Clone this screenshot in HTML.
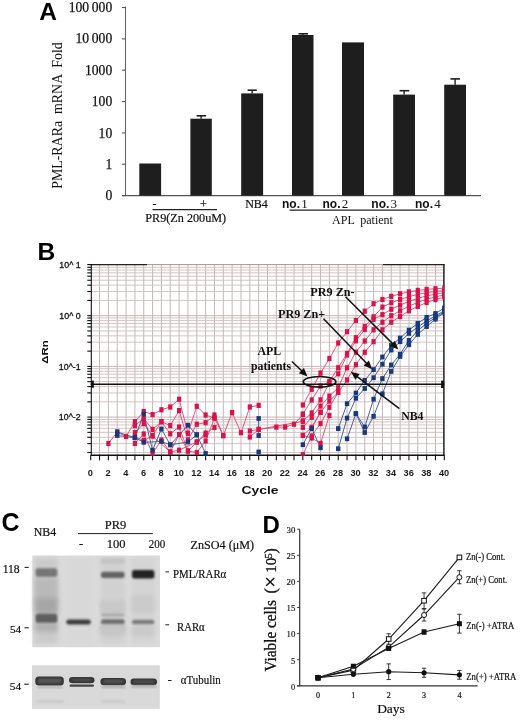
<!DOCTYPE html><html><head><meta charset="utf-8"><style>html,body{margin:0;padding:0;background:#fff;width:520px;height:723px;overflow:hidden}svg{display:block;filter:blur(0.3px)}</style></head><body>
<svg width="520" height="723" viewBox="0 0 520 723">
<rect x="0.00" y="0.00" width="520.00" height="723.00" fill="#fff" />
<text x="39.30" y="20.20" font-family='"Liberation Sans", sans-serif' font-size="24.5" font-weight="bold" text-anchor="start" fill="#000" >A</text>
<line x1="125.50" y1="6.50" x2="125.50" y2="195.60" stroke="#666" stroke-width="1.1" />
<line x1="122.30" y1="195.60" x2="481.00" y2="195.60" stroke="#555" stroke-width="1.2" />
<line x1="122.00" y1="195.60" x2="125.50" y2="195.60" stroke="#555" stroke-width="1.1" />
<text x="112.20" y="200.20" font-family='"Liberation Serif", serif' font-size="13.6" font-weight="normal" text-anchor="end" fill="#111" stroke="#111" stroke-width="0.25">0</text>
<line x1="122.00" y1="164.25" x2="125.50" y2="164.25" stroke="#555" stroke-width="1.1" />
<text x="112.20" y="168.85" font-family='"Liberation Serif", serif' font-size="13.6" font-weight="normal" text-anchor="end" fill="#111" stroke="#111" stroke-width="0.25">1</text>
<line x1="122.00" y1="132.90" x2="125.50" y2="132.90" stroke="#555" stroke-width="1.1" />
<text x="112.20" y="137.50" font-family='"Liberation Serif", serif' font-size="13.6" font-weight="normal" text-anchor="end" fill="#111" stroke="#111" stroke-width="0.25">10</text>
<line x1="122.00" y1="101.55" x2="125.50" y2="101.55" stroke="#555" stroke-width="1.1" />
<text x="112.20" y="106.15" font-family='"Liberation Serif", serif' font-size="13.6" font-weight="normal" text-anchor="end" fill="#111" stroke="#111" stroke-width="0.25">100</text>
<line x1="122.00" y1="70.20" x2="125.50" y2="70.20" stroke="#555" stroke-width="1.1" />
<text x="112.20" y="74.80" font-family='"Liberation Serif", serif' font-size="13.6" font-weight="normal" text-anchor="end" fill="#111" stroke="#111" stroke-width="0.25">1000</text>
<line x1="122.00" y1="38.85" x2="125.50" y2="38.85" stroke="#555" stroke-width="1.1" />
<text x="112.20" y="43.45" font-family='"Liberation Serif", serif' font-size="13.6" font-weight="normal" text-anchor="end" fill="#111" stroke="#111" stroke-width="0.25">10 000</text>
<line x1="122.00" y1="7.50" x2="125.50" y2="7.50" stroke="#555" stroke-width="1.1" />
<text x="112.20" y="12.10" font-family='"Liberation Serif", serif' font-size="13.6" font-weight="normal" text-anchor="end" fill="#111" stroke="#111" stroke-width="0.25">100 000</text>
<text transform="translate(62.3,115.5) rotate(-90)" font-family='"Liberation Serif", serif' font-size="13.9" text-anchor="middle" fill="#111" xml:space="preserve">PML-RARa  mRNA  Fold</text>
<rect x="139.30" y="163.50" width="21.80" height="32.10" fill="#1e1e1e" />
<rect x="190.40" y="118.70" width="21.40" height="76.90" fill="#1e1e1e" />
<line x1="201.10" y1="115.80" x2="201.10" y2="118.70" stroke="#1e1e1e" stroke-width="1.4" />
<line x1="196.60" y1="115.80" x2="206.00" y2="115.80" stroke="#1e1e1e" stroke-width="1.6" />
<rect x="241.20" y="93.40" width="21.90" height="102.20" fill="#1e1e1e" />
<line x1="252.15" y1="90.20" x2="252.15" y2="93.40" stroke="#1e1e1e" stroke-width="1.4" />
<line x1="247.60" y1="90.20" x2="256.80" y2="90.20" stroke="#1e1e1e" stroke-width="1.6" />
<rect x="292.00" y="35.00" width="21.50" height="160.60" fill="#1e1e1e" />
<line x1="302.75" y1="33.80" x2="302.75" y2="35.00" stroke="#1e1e1e" stroke-width="1.4" />
<line x1="298.50" y1="33.80" x2="308.00" y2="33.80" stroke="#1e1e1e" stroke-width="1.6" />
<rect x="342.00" y="42.40" width="22.00" height="153.20" fill="#1e1e1e" />
<rect x="393.20" y="94.60" width="21.80" height="101.00" fill="#1e1e1e" />
<line x1="404.10" y1="90.70" x2="404.10" y2="94.60" stroke="#1e1e1e" stroke-width="1.4" />
<line x1="399.60" y1="90.70" x2="409.30" y2="90.70" stroke="#1e1e1e" stroke-width="1.6" />
<rect x="444.20" y="84.70" width="21.80" height="110.90" fill="#1e1e1e" />
<line x1="455.10" y1="78.90" x2="455.10" y2="84.70" stroke="#1e1e1e" stroke-width="1.4" />
<line x1="450.40" y1="78.90" x2="460.00" y2="78.90" stroke="#1e1e1e" stroke-width="1.6" />
<text x="154.60" y="207.50" font-family='"Liberation Serif", serif' font-size="12" font-weight="normal" text-anchor="middle" fill="#111"  stroke="#111" stroke-width="0.2">-</text>
<text x="203.50" y="207.50" font-family='"Liberation Serif", serif' font-size="12" font-weight="normal" text-anchor="middle" fill="#111"  stroke="#111" stroke-width="0.2">+</text>
<text x="256.50" y="207.50" font-family='"Liberation Serif", serif' font-size="12" font-weight="normal" text-anchor="middle" fill="#111"  stroke="#111" stroke-width="0.2">NB4</text>
<text x="282" y="207.5" font-size="12" fill="#111"><tspan font-family='"Liberation Sans", sans-serif' font-weight="bold">no.</tspan><tspan font-family='"Liberation Serif", serif' font-size="13" dx="1.2">1</tspan></text>
<text x="322.5" y="207.5" font-size="12" fill="#111"><tspan font-family='"Liberation Sans", sans-serif' font-weight="bold">no.</tspan><tspan font-family='"Liberation Serif", serif' font-size="13" dx="1.2">2</tspan></text>
<text x="371.3" y="207.5" font-size="12" fill="#111"><tspan font-family='"Liberation Sans", sans-serif' font-weight="bold">no.</tspan><tspan font-family='"Liberation Serif", serif' font-size="13" dx="1.2">3</tspan></text>
<text x="415" y="207.5" font-size="12" fill="#111"><tspan font-family='"Liberation Sans", sans-serif' font-weight="bold">no.</tspan><tspan font-family='"Liberation Serif", serif' font-size="13" dx="1.2">4</tspan></text>
<line x1="152.50" y1="209.60" x2="217.00" y2="209.60" stroke="#222" stroke-width="1.2" />
<line x1="289.60" y1="210.20" x2="427.00" y2="210.20" stroke="#222" stroke-width="1.2" />
<text x="185.70" y="222.20" font-family='"Liberation Serif", serif' font-size="12.2" font-weight="normal" text-anchor="middle" fill="#111"  stroke="#111" stroke-width="0.2">PR9(Zn 200uM)</text>
<text x="362.5" y="223.8" font-family='"Liberation Serif", serif' font-size="12" text-anchor="middle" fill="#111" xml:space="preserve">APL  patient</text>
<text transform="translate(37.6,259.6) scale(1.0,1)" font-family='"Liberation Sans", sans-serif' font-size="24.6" font-weight="bold" fill="#000">B</text>
<line x1="99.54" y1="264.60" x2="99.54" y2="455.30" stroke="#bbb0b0" stroke-width="0.9" />
<line x1="108.38" y1="264.60" x2="108.38" y2="455.30" stroke="#bbb0b0" stroke-width="0.9" />
<line x1="117.22" y1="264.60" x2="117.22" y2="455.30" stroke="#bbb0b0" stroke-width="0.9" />
<line x1="126.06" y1="264.60" x2="126.06" y2="455.30" stroke="#bbb0b0" stroke-width="0.9" />
<line x1="134.90" y1="264.60" x2="134.90" y2="455.30" stroke="#bbb0b0" stroke-width="0.9" />
<line x1="143.74" y1="264.60" x2="143.74" y2="455.30" stroke="#bbb0b0" stroke-width="0.9" />
<line x1="152.58" y1="264.60" x2="152.58" y2="455.30" stroke="#bbb0b0" stroke-width="0.9" />
<line x1="161.42" y1="264.60" x2="161.42" y2="455.30" stroke="#bbb0b0" stroke-width="0.9" />
<line x1="170.26" y1="264.60" x2="170.26" y2="455.30" stroke="#bbb0b0" stroke-width="0.9" />
<line x1="179.10" y1="264.60" x2="179.10" y2="455.30" stroke="#bbb0b0" stroke-width="0.9" />
<line x1="187.94" y1="264.60" x2="187.94" y2="455.30" stroke="#bbb0b0" stroke-width="0.9" />
<line x1="196.78" y1="264.60" x2="196.78" y2="455.30" stroke="#bbb0b0" stroke-width="0.9" />
<line x1="205.62" y1="264.60" x2="205.62" y2="455.30" stroke="#bbb0b0" stroke-width="0.9" />
<line x1="214.46" y1="264.60" x2="214.46" y2="455.30" stroke="#bbb0b0" stroke-width="0.9" />
<line x1="223.30" y1="264.60" x2="223.30" y2="455.30" stroke="#bbb0b0" stroke-width="0.9" />
<line x1="232.14" y1="264.60" x2="232.14" y2="455.30" stroke="#bbb0b0" stroke-width="0.9" />
<line x1="240.98" y1="264.60" x2="240.98" y2="455.30" stroke="#bbb0b0" stroke-width="0.9" />
<line x1="249.82" y1="264.60" x2="249.82" y2="455.30" stroke="#bbb0b0" stroke-width="0.9" />
<line x1="258.66" y1="264.60" x2="258.66" y2="455.30" stroke="#bbb0b0" stroke-width="0.9" />
<line x1="267.50" y1="264.60" x2="267.50" y2="455.30" stroke="#bbb0b0" stroke-width="0.9" />
<line x1="276.34" y1="264.60" x2="276.34" y2="455.30" stroke="#bbb0b0" stroke-width="0.9" />
<line x1="285.18" y1="264.60" x2="285.18" y2="455.30" stroke="#bbb0b0" stroke-width="0.9" />
<line x1="294.02" y1="264.60" x2="294.02" y2="455.30" stroke="#bbb0b0" stroke-width="0.9" />
<line x1="302.86" y1="264.60" x2="302.86" y2="455.30" stroke="#bbb0b0" stroke-width="0.9" />
<line x1="311.70" y1="264.60" x2="311.70" y2="455.30" stroke="#bbb0b0" stroke-width="0.9" />
<line x1="320.54" y1="264.60" x2="320.54" y2="455.30" stroke="#bbb0b0" stroke-width="0.9" />
<line x1="329.38" y1="264.60" x2="329.38" y2="455.30" stroke="#bbb0b0" stroke-width="0.9" />
<line x1="338.22" y1="264.60" x2="338.22" y2="455.30" stroke="#bbb0b0" stroke-width="0.9" />
<line x1="347.06" y1="264.60" x2="347.06" y2="455.30" stroke="#bbb0b0" stroke-width="0.9" />
<line x1="355.90" y1="264.60" x2="355.90" y2="455.30" stroke="#bbb0b0" stroke-width="0.9" />
<line x1="364.74" y1="264.60" x2="364.74" y2="455.30" stroke="#bbb0b0" stroke-width="0.9" />
<line x1="373.58" y1="264.60" x2="373.58" y2="455.30" stroke="#bbb0b0" stroke-width="0.9" />
<line x1="382.42" y1="264.60" x2="382.42" y2="455.30" stroke="#bbb0b0" stroke-width="0.9" />
<line x1="391.26" y1="264.60" x2="391.26" y2="455.30" stroke="#bbb0b0" stroke-width="0.9" />
<line x1="400.10" y1="264.60" x2="400.10" y2="455.30" stroke="#bbb0b0" stroke-width="0.9" />
<line x1="408.94" y1="264.60" x2="408.94" y2="455.30" stroke="#bbb0b0" stroke-width="0.9" />
<line x1="417.78" y1="264.60" x2="417.78" y2="455.30" stroke="#bbb0b0" stroke-width="0.9" />
<line x1="426.62" y1="264.60" x2="426.62" y2="455.30" stroke="#bbb0b0" stroke-width="0.9" />
<line x1="435.46" y1="264.60" x2="435.46" y2="455.30" stroke="#bbb0b0" stroke-width="0.9" />
<line x1="90.70" y1="452.54" x2="444.30" y2="452.54" stroke="#d2bcbd" stroke-width="0.9" />
<line x1="87.30" y1="452.54" x2="91.30" y2="452.54" stroke="#111" stroke-width="1.1" />
<line x1="90.70" y1="443.61" x2="444.30" y2="443.61" stroke="#d2bcbd" stroke-width="0.9" />
<line x1="87.30" y1="443.61" x2="91.30" y2="443.61" stroke="#111" stroke-width="1.1" />
<line x1="90.70" y1="437.28" x2="444.30" y2="437.28" stroke="#d2bcbd" stroke-width="0.9" />
<line x1="87.30" y1="437.28" x2="91.30" y2="437.28" stroke="#111" stroke-width="1.1" />
<line x1="90.70" y1="432.36" x2="444.30" y2="432.36" stroke="#d2bcbd" stroke-width="0.9" />
<line x1="87.30" y1="432.36" x2="91.30" y2="432.36" stroke="#111" stroke-width="1.1" />
<line x1="90.70" y1="428.35" x2="444.30" y2="428.35" stroke="#d2bcbd" stroke-width="0.9" />
<line x1="87.30" y1="428.35" x2="91.30" y2="428.35" stroke="#111" stroke-width="1.1" />
<line x1="90.70" y1="424.95" x2="444.30" y2="424.95" stroke="#d2bcbd" stroke-width="0.9" />
<line x1="87.30" y1="424.95" x2="91.30" y2="424.95" stroke="#111" stroke-width="1.1" />
<line x1="90.70" y1="422.01" x2="444.30" y2="422.01" stroke="#d2bcbd" stroke-width="0.9" />
<line x1="87.30" y1="422.01" x2="91.30" y2="422.01" stroke="#111" stroke-width="1.1" />
<line x1="90.70" y1="419.42" x2="444.30" y2="419.42" stroke="#d2bcbd" stroke-width="0.9" />
<line x1="87.30" y1="419.42" x2="91.30" y2="419.42" stroke="#111" stroke-width="1.1" />
<line x1="90.70" y1="417.10" x2="444.30" y2="417.10" stroke="#c8b2b2" stroke-width="1.0" />
<line x1="87.30" y1="417.10" x2="91.30" y2="417.10" stroke="#111" stroke-width="1.1" />
<line x1="90.70" y1="401.84" x2="444.30" y2="401.84" stroke="#d2bcbd" stroke-width="0.9" />
<line x1="87.30" y1="401.84" x2="91.30" y2="401.84" stroke="#111" stroke-width="1.1" />
<line x1="90.70" y1="392.91" x2="444.30" y2="392.91" stroke="#d2bcbd" stroke-width="0.9" />
<line x1="87.30" y1="392.91" x2="91.30" y2="392.91" stroke="#111" stroke-width="1.1" />
<line x1="90.70" y1="386.58" x2="444.30" y2="386.58" stroke="#d2bcbd" stroke-width="0.9" />
<line x1="87.30" y1="386.58" x2="91.30" y2="386.58" stroke="#111" stroke-width="1.1" />
<line x1="90.70" y1="381.66" x2="444.30" y2="381.66" stroke="#d2bcbd" stroke-width="0.9" />
<line x1="87.30" y1="381.66" x2="91.30" y2="381.66" stroke="#111" stroke-width="1.1" />
<line x1="90.70" y1="377.65" x2="444.30" y2="377.65" stroke="#d2bcbd" stroke-width="0.9" />
<line x1="87.30" y1="377.65" x2="91.30" y2="377.65" stroke="#111" stroke-width="1.1" />
<line x1="90.70" y1="374.25" x2="444.30" y2="374.25" stroke="#d2bcbd" stroke-width="0.9" />
<line x1="87.30" y1="374.25" x2="91.30" y2="374.25" stroke="#111" stroke-width="1.1" />
<line x1="90.70" y1="371.31" x2="444.30" y2="371.31" stroke="#d2bcbd" stroke-width="0.9" />
<line x1="87.30" y1="371.31" x2="91.30" y2="371.31" stroke="#111" stroke-width="1.1" />
<line x1="90.70" y1="368.72" x2="444.30" y2="368.72" stroke="#d2bcbd" stroke-width="0.9" />
<line x1="87.30" y1="368.72" x2="91.30" y2="368.72" stroke="#111" stroke-width="1.1" />
<line x1="90.70" y1="366.40" x2="444.30" y2="366.40" stroke="#c8b2b2" stroke-width="1.0" />
<line x1="87.30" y1="366.40" x2="91.30" y2="366.40" stroke="#111" stroke-width="1.1" />
<line x1="90.70" y1="351.14" x2="444.30" y2="351.14" stroke="#d2bcbd" stroke-width="0.9" />
<line x1="87.30" y1="351.14" x2="91.30" y2="351.14" stroke="#111" stroke-width="1.1" />
<line x1="90.70" y1="342.21" x2="444.30" y2="342.21" stroke="#d2bcbd" stroke-width="0.9" />
<line x1="87.30" y1="342.21" x2="91.30" y2="342.21" stroke="#111" stroke-width="1.1" />
<line x1="90.70" y1="335.88" x2="444.30" y2="335.88" stroke="#d2bcbd" stroke-width="0.9" />
<line x1="87.30" y1="335.88" x2="91.30" y2="335.88" stroke="#111" stroke-width="1.1" />
<line x1="90.70" y1="330.96" x2="444.30" y2="330.96" stroke="#d2bcbd" stroke-width="0.9" />
<line x1="87.30" y1="330.96" x2="91.30" y2="330.96" stroke="#111" stroke-width="1.1" />
<line x1="90.70" y1="326.95" x2="444.30" y2="326.95" stroke="#d2bcbd" stroke-width="0.9" />
<line x1="87.30" y1="326.95" x2="91.30" y2="326.95" stroke="#111" stroke-width="1.1" />
<line x1="90.70" y1="323.55" x2="444.30" y2="323.55" stroke="#d2bcbd" stroke-width="0.9" />
<line x1="87.30" y1="323.55" x2="91.30" y2="323.55" stroke="#111" stroke-width="1.1" />
<line x1="90.70" y1="320.61" x2="444.30" y2="320.61" stroke="#d2bcbd" stroke-width="0.9" />
<line x1="87.30" y1="320.61" x2="91.30" y2="320.61" stroke="#111" stroke-width="1.1" />
<line x1="90.70" y1="318.02" x2="444.30" y2="318.02" stroke="#d2bcbd" stroke-width="0.9" />
<line x1="87.30" y1="318.02" x2="91.30" y2="318.02" stroke="#111" stroke-width="1.1" />
<line x1="90.70" y1="315.70" x2="444.30" y2="315.70" stroke="#c8b2b2" stroke-width="1.0" />
<line x1="87.30" y1="315.70" x2="91.30" y2="315.70" stroke="#111" stroke-width="1.1" />
<line x1="90.70" y1="300.44" x2="444.30" y2="300.44" stroke="#d2bcbd" stroke-width="0.9" />
<line x1="87.30" y1="300.44" x2="91.30" y2="300.44" stroke="#111" stroke-width="1.1" />
<line x1="90.70" y1="291.51" x2="444.30" y2="291.51" stroke="#d2bcbd" stroke-width="0.9" />
<line x1="87.30" y1="291.51" x2="91.30" y2="291.51" stroke="#111" stroke-width="1.1" />
<line x1="90.70" y1="285.18" x2="444.30" y2="285.18" stroke="#d2bcbd" stroke-width="0.9" />
<line x1="87.30" y1="285.18" x2="91.30" y2="285.18" stroke="#111" stroke-width="1.1" />
<line x1="90.70" y1="280.26" x2="444.30" y2="280.26" stroke="#d2bcbd" stroke-width="0.9" />
<line x1="87.30" y1="280.26" x2="91.30" y2="280.26" stroke="#111" stroke-width="1.1" />
<line x1="90.70" y1="276.25" x2="444.30" y2="276.25" stroke="#d2bcbd" stroke-width="0.9" />
<line x1="87.30" y1="276.25" x2="91.30" y2="276.25" stroke="#111" stroke-width="1.1" />
<line x1="90.70" y1="272.85" x2="444.30" y2="272.85" stroke="#d2bcbd" stroke-width="0.9" />
<line x1="87.30" y1="272.85" x2="91.30" y2="272.85" stroke="#111" stroke-width="1.1" />
<line x1="90.70" y1="269.91" x2="444.30" y2="269.91" stroke="#d2bcbd" stroke-width="0.9" />
<line x1="87.30" y1="269.91" x2="91.30" y2="269.91" stroke="#111" stroke-width="1.1" />
<line x1="90.70" y1="267.32" x2="444.30" y2="267.32" stroke="#d2bcbd" stroke-width="0.9" />
<line x1="87.30" y1="267.32" x2="91.30" y2="267.32" stroke="#111" stroke-width="1.1" />
<line x1="90.70" y1="264.60" x2="444.30" y2="264.60" stroke="#a09595" stroke-width="1.0" />
<line x1="90.70" y1="264.60" x2="147.00" y2="264.60" stroke="#222" stroke-width="1.4" />
<line x1="383.00" y1="264.60" x2="444.30" y2="264.60" stroke="#222" stroke-width="1.4" />
<line x1="87.30" y1="264.60" x2="91.30" y2="264.60" stroke="#111" stroke-width="1.2" />
<line x1="91.30" y1="263.90" x2="91.30" y2="456.00" stroke="#111" stroke-width="1.1" />
<line x1="443.90" y1="263.90" x2="443.90" y2="456.00" stroke="#111" stroke-width="1.4" />
<line x1="90.70" y1="455.30" x2="444.30" y2="455.30" stroke="#111" stroke-width="1.5" />
<line x1="90.70" y1="455.30" x2="90.70" y2="460.30" stroke="#111" stroke-width="1.1" />
<line x1="99.54" y1="455.30" x2="99.54" y2="460.30" stroke="#111" stroke-width="1.1" />
<line x1="108.38" y1="455.30" x2="108.38" y2="460.30" stroke="#111" stroke-width="1.1" />
<line x1="117.22" y1="455.30" x2="117.22" y2="460.30" stroke="#111" stroke-width="1.1" />
<line x1="126.06" y1="455.30" x2="126.06" y2="460.30" stroke="#111" stroke-width="1.1" />
<line x1="134.90" y1="455.30" x2="134.90" y2="460.30" stroke="#111" stroke-width="1.1" />
<line x1="143.74" y1="455.30" x2="143.74" y2="460.30" stroke="#111" stroke-width="1.1" />
<line x1="152.58" y1="455.30" x2="152.58" y2="460.30" stroke="#111" stroke-width="1.1" />
<line x1="161.42" y1="455.30" x2="161.42" y2="460.30" stroke="#111" stroke-width="1.1" />
<line x1="170.26" y1="455.30" x2="170.26" y2="460.30" stroke="#111" stroke-width="1.1" />
<line x1="179.10" y1="455.30" x2="179.10" y2="460.30" stroke="#111" stroke-width="1.1" />
<line x1="187.94" y1="455.30" x2="187.94" y2="460.30" stroke="#111" stroke-width="1.1" />
<line x1="196.78" y1="455.30" x2="196.78" y2="460.30" stroke="#111" stroke-width="1.1" />
<line x1="205.62" y1="455.30" x2="205.62" y2="460.30" stroke="#111" stroke-width="1.1" />
<line x1="214.46" y1="455.30" x2="214.46" y2="460.30" stroke="#111" stroke-width="1.1" />
<line x1="223.30" y1="455.30" x2="223.30" y2="460.30" stroke="#111" stroke-width="1.1" />
<line x1="232.14" y1="455.30" x2="232.14" y2="460.30" stroke="#111" stroke-width="1.1" />
<line x1="240.98" y1="455.30" x2="240.98" y2="460.30" stroke="#111" stroke-width="1.1" />
<line x1="249.82" y1="455.30" x2="249.82" y2="460.30" stroke="#111" stroke-width="1.1" />
<line x1="258.66" y1="455.30" x2="258.66" y2="460.30" stroke="#111" stroke-width="1.1" />
<line x1="267.50" y1="455.30" x2="267.50" y2="460.30" stroke="#111" stroke-width="1.1" />
<line x1="276.34" y1="455.30" x2="276.34" y2="460.30" stroke="#111" stroke-width="1.1" />
<line x1="285.18" y1="455.30" x2="285.18" y2="460.30" stroke="#111" stroke-width="1.1" />
<line x1="294.02" y1="455.30" x2="294.02" y2="460.30" stroke="#111" stroke-width="1.1" />
<line x1="302.86" y1="455.30" x2="302.86" y2="460.30" stroke="#111" stroke-width="1.1" />
<line x1="311.70" y1="455.30" x2="311.70" y2="460.30" stroke="#111" stroke-width="1.1" />
<line x1="320.54" y1="455.30" x2="320.54" y2="460.30" stroke="#111" stroke-width="1.1" />
<line x1="329.38" y1="455.30" x2="329.38" y2="460.30" stroke="#111" stroke-width="1.1" />
<line x1="338.22" y1="455.30" x2="338.22" y2="460.30" stroke="#111" stroke-width="1.1" />
<line x1="347.06" y1="455.30" x2="347.06" y2="460.30" stroke="#111" stroke-width="1.1" />
<line x1="355.90" y1="455.30" x2="355.90" y2="460.30" stroke="#111" stroke-width="1.1" />
<line x1="364.74" y1="455.30" x2="364.74" y2="460.30" stroke="#111" stroke-width="1.1" />
<line x1="373.58" y1="455.30" x2="373.58" y2="460.30" stroke="#111" stroke-width="1.1" />
<line x1="382.42" y1="455.30" x2="382.42" y2="460.30" stroke="#111" stroke-width="1.1" />
<line x1="391.26" y1="455.30" x2="391.26" y2="460.30" stroke="#111" stroke-width="1.1" />
<line x1="400.10" y1="455.30" x2="400.10" y2="460.30" stroke="#111" stroke-width="1.1" />
<line x1="408.94" y1="455.30" x2="408.94" y2="460.30" stroke="#111" stroke-width="1.1" />
<line x1="417.78" y1="455.30" x2="417.78" y2="460.30" stroke="#111" stroke-width="1.1" />
<line x1="426.62" y1="455.30" x2="426.62" y2="460.30" stroke="#111" stroke-width="1.1" />
<line x1="435.46" y1="455.30" x2="435.46" y2="460.30" stroke="#111" stroke-width="1.1" />
<line x1="444.30" y1="455.30" x2="444.30" y2="460.30" stroke="#111" stroke-width="1.1" />
<text x="90.40" y="475.60" font-family='"Liberation Sans", sans-serif' font-size="9.2" font-weight="bold" text-anchor="middle" fill="#1a1a1a" >0</text>
<text x="108.08" y="475.60" font-family='"Liberation Sans", sans-serif' font-size="9.2" font-weight="bold" text-anchor="middle" fill="#1a1a1a" >2</text>
<text x="125.76" y="475.60" font-family='"Liberation Sans", sans-serif' font-size="9.2" font-weight="bold" text-anchor="middle" fill="#1a1a1a" >4</text>
<text x="143.44" y="475.60" font-family='"Liberation Sans", sans-serif' font-size="9.2" font-weight="bold" text-anchor="middle" fill="#1a1a1a" >6</text>
<text x="161.12" y="475.60" font-family='"Liberation Sans", sans-serif' font-size="9.2" font-weight="bold" text-anchor="middle" fill="#1a1a1a" >8</text>
<text x="178.80" y="475.60" font-family='"Liberation Sans", sans-serif' font-size="9.2" font-weight="bold" text-anchor="middle" fill="#1a1a1a" >10</text>
<text x="196.48" y="475.60" font-family='"Liberation Sans", sans-serif' font-size="9.2" font-weight="bold" text-anchor="middle" fill="#1a1a1a" >12</text>
<text x="214.16" y="475.60" font-family='"Liberation Sans", sans-serif' font-size="9.2" font-weight="bold" text-anchor="middle" fill="#1a1a1a" >14</text>
<text x="231.84" y="475.60" font-family='"Liberation Sans", sans-serif' font-size="9.2" font-weight="bold" text-anchor="middle" fill="#1a1a1a" >16</text>
<text x="249.52" y="475.60" font-family='"Liberation Sans", sans-serif' font-size="9.2" font-weight="bold" text-anchor="middle" fill="#1a1a1a" >18</text>
<text x="267.20" y="475.60" font-family='"Liberation Sans", sans-serif' font-size="9.2" font-weight="bold" text-anchor="middle" fill="#1a1a1a" >20</text>
<text x="284.88" y="475.60" font-family='"Liberation Sans", sans-serif' font-size="9.2" font-weight="bold" text-anchor="middle" fill="#1a1a1a" >22</text>
<text x="302.56" y="475.60" font-family='"Liberation Sans", sans-serif' font-size="9.2" font-weight="bold" text-anchor="middle" fill="#1a1a1a" >24</text>
<text x="320.24" y="475.60" font-family='"Liberation Sans", sans-serif' font-size="9.2" font-weight="bold" text-anchor="middle" fill="#1a1a1a" >26</text>
<text x="337.92" y="475.60" font-family='"Liberation Sans", sans-serif' font-size="9.2" font-weight="bold" text-anchor="middle" fill="#1a1a1a" >28</text>
<text x="355.60" y="475.60" font-family='"Liberation Sans", sans-serif' font-size="9.2" font-weight="bold" text-anchor="middle" fill="#1a1a1a" >30</text>
<text x="373.28" y="475.60" font-family='"Liberation Sans", sans-serif' font-size="9.2" font-weight="bold" text-anchor="middle" fill="#1a1a1a" >32</text>
<text x="390.96" y="475.60" font-family='"Liberation Sans", sans-serif' font-size="9.2" font-weight="bold" text-anchor="middle" fill="#1a1a1a" >34</text>
<text x="408.64" y="475.60" font-family='"Liberation Sans", sans-serif' font-size="9.2" font-weight="bold" text-anchor="middle" fill="#1a1a1a" >36</text>
<text x="426.32" y="475.60" font-family='"Liberation Sans", sans-serif' font-size="9.2" font-weight="bold" text-anchor="middle" fill="#1a1a1a" >38</text>
<text x="444.00" y="475.60" font-family='"Liberation Sans", sans-serif' font-size="9.2" font-weight="bold" text-anchor="middle" fill="#1a1a1a" >40</text>
<text x="80.60" y="268.20" font-family='"Liberation Sans", sans-serif' font-size="8.8" font-weight="normal" text-anchor="end" fill="#111" stroke="#111" stroke-width="0.3">10^ 1</text>
<text x="80.60" y="318.90" font-family='"Liberation Sans", sans-serif' font-size="8.8" font-weight="normal" text-anchor="end" fill="#111" stroke="#111" stroke-width="0.3">10^ 0</text>
<text x="80.60" y="369.60" font-family='"Liberation Sans", sans-serif' font-size="8.8" font-weight="normal" text-anchor="end" fill="#111" stroke="#111" stroke-width="0.3">10^-1</text>
<text x="80.60" y="420.30" font-family='"Liberation Sans", sans-serif' font-size="8.8" font-weight="normal" text-anchor="end" fill="#111" stroke="#111" stroke-width="0.3">10^-2</text>
<text transform="translate(47.6,363.7) rotate(-90)" font-family='"Liberation Sans", sans-serif' font-size="8.6" font-weight="bold" fill="#111" textLength="23.5" lengthAdjust="spacingAndGlyphs">ΔRn</text>
<text x="241.5" y="494.3" font-family='"Liberation Sans", sans-serif' font-size="10.6" font-weight="bold" fill="#111" textLength="37" lengthAdjust="spacingAndGlyphs">Cycle</text>
<clipPath id="bclip"><rect x="87.7" y="261.6" width="356.2" height="194.2"/></clipPath>
<g clip-path="url(#bclip)">
<path d="M108.38,443.50 L117.22,432.00 L126.06,436.50 L134.90,421.70 L143.74,411.50 L152.58,414.60 L161.42,409.80 L170.26,407.00 L179.10,399.20 L187.94,433.30 L196.78,406.30 L205.62,415.00 L214.46,418.00 L223.30,435.60 L232.14,412.50 L240.98,432.70 L249.82,407.00 L258.66,405.40" fill="none" stroke="#e64872" stroke-width="0.95"/>
<path d="M134.90,425.60 L143.74,418.50 L152.58,429.40 L161.42,421.70 L170.26,425.60 L179.10,410.60 L187.94,440.00 L196.78,424.20 L205.62,422.70 L214.46,415.00 L223.30,435.60" fill="none" stroke="#e64872" stroke-width="0.95"/>
<path d="M134.90,432.70 L143.74,423.60 L152.58,435.60 L161.42,421.70 L170.26,433.80 L179.10,427.00 L187.94,451.00 L196.78,442.00 L205.62,433.00 L214.46,427.50" fill="none" stroke="#e64872" stroke-width="0.95"/>
<path d="M134.90,443.50 L143.74,434.00 L152.58,453.50 L161.42,440.00 L170.26,452.00 L179.10,434.60 L187.94,451.00 L196.78,452.50 L205.62,441.00 L214.46,418.00" fill="none" stroke="#e64872" stroke-width="0.95"/>
<path d="M134.90,437.00 L143.74,440.40 L152.58,436.00 L170.26,452.00 L179.10,450.20 L196.78,442.00 L205.62,435.00" fill="none" stroke="#e64872" stroke-width="0.95"/>
<path d="M249.82,431.00 L258.66,429.40 L276.34,427.10 L285.18,427.10 L294.02,424.20 L302.86,414.60" fill="none" stroke="#e64872" stroke-width="0.95"/>
<path d="M249.82,437.00 L258.66,429.40 L302.86,421.30" fill="none" stroke="#e64872" stroke-width="0.95"/>
<path d="M302.86,435.40 L311.70,438.00 L320.54,443.40 L329.38,415.40" fill="none" stroke="#e64872" stroke-width="0.95"/>
<path d="M311.70,428.00 L320.54,412.30" fill="none" stroke="#e64872" stroke-width="0.95"/>
<path d="M302.86,405.00 L311.70,389.30 L320.54,373.10 L329.38,358.50 L338.22,343.00 L347.06,331.70 L355.90,320.50 L364.74,311.20 L373.58,303.70 L382.42,299.50 L391.26,296.30 L400.10,293.80 L408.94,291.90 L417.78,290.40 L426.62,289.40 L435.46,288.70 L444.30,288.20" fill="none" stroke="#e64872" stroke-width="0.95"/>
<path d="M302.86,414.00 L311.70,400.00 L320.54,386.00 L329.38,381.50 L338.22,367.70 L347.06,353.50 L355.90,337.70 L364.74,326.50 L373.58,316.80 L382.42,307.07 L391.26,302.77 L400.10,299.48 L408.94,296.62 L417.78,294.40 L426.62,292.67 L435.46,291.43 L444.30,290.43" fill="none" stroke="#e64872" stroke-width="0.95"/>
<path d="M302.86,421.00 L311.70,413.00 L320.54,399.90 L329.38,383.00 L338.22,373.80 L347.06,355.00 L355.90,340.80 L364.74,329.50 L373.58,319.30 L382.42,314.65 L391.26,309.25 L400.10,305.15 L408.94,301.35 L417.78,298.40 L426.62,295.95 L435.46,294.15 L444.30,292.65" fill="none" stroke="#e64872" stroke-width="0.95"/>
<path d="M302.86,427.30 L311.70,417.30 L320.54,406.10 L329.38,396.10 L338.22,387.70 L347.06,367.80 L355.90,352.20 L364.74,341.00 L373.58,329.80 L382.42,322.23 L391.26,315.73 L400.10,310.82 L408.94,306.07 L417.78,302.40 L426.62,299.23 L435.46,296.88 L444.30,294.88" fill="none" stroke="#e64872" stroke-width="0.95"/>
<path d="M302.86,435.40 L311.70,427.30 L320.54,412.30 L329.38,401.10 L338.22,392.30 L347.06,380.00 L355.90,364.70 L364.74,352.20 L373.58,341.70 L382.42,329.80 L391.26,322.20 L400.10,316.50 L408.94,310.80 L417.78,306.40 L426.62,302.50 L435.46,299.60 L444.30,297.10" fill="none" stroke="#e64872" stroke-width="0.95"/>
<path d="M302.86,454.70 L311.70,436.00 L320.54,423.50 L329.38,407.30 L338.22,392.30" fill="none" stroke="#e64872" stroke-width="0.95"/>
<path d="M117.22,435.50 L134.90,437.70 L143.74,414.00 L152.58,450.20 L161.42,429.00 L170.26,444.80 L187.94,425.30 L196.78,434.80 L205.62,453.50" fill="none" stroke="#3d5890" stroke-width="0.95"/>
<path d="M117.22,432.00 L134.90,437.70 L143.74,442.30 L161.42,441.50 L170.26,444.80 L187.94,442.00 L196.78,434.80" fill="none" stroke="#3d5890" stroke-width="0.95"/>
<path d="M258.66,418.50 L258.66,435.50" fill="none" stroke="#3d5890" stroke-width="0.95"/>
<path d="M258.66,452.00" fill="none" stroke="#3d5890" stroke-width="0.95"/>
<path d="M302.86,444.70 L311.70,428.50 L320.54,447.80" fill="none" stroke="#3d5890" stroke-width="0.95"/>
<path d="M338.22,428.60 L347.06,403.70 L355.90,393.00 L364.74,380.40 L373.58,369.60 L382.42,357.00 L391.26,345.50 L400.10,338.00 L408.94,330.10 L417.78,323.30 L426.62,317.40 L435.46,313.50 L444.30,308.00" fill="none" stroke="#3d5890" stroke-width="0.95"/>
<path d="M338.22,448.70 L347.06,418.10 L355.90,398.30 L364.74,388.50 L373.58,377.70 L382.42,364.20 L391.26,350.00 L400.10,341.70 L408.94,333.40 L417.78,327.00 L426.62,321.00 L435.46,316.00 L444.30,310.50" fill="none" stroke="#3d5890" stroke-width="0.95"/>
<path d="M347.06,438.80 L355.90,413.60 L364.74,427.00 L373.58,399.20 L382.42,378.60 L391.26,365.00 L400.10,354.20 L408.94,340.40 L417.78,330.50 L426.62,323.50 L435.46,317.50 L444.30,311.50" fill="none" stroke="#3d5890" stroke-width="0.95"/>
<path d="M355.90,413.60 L364.74,432.50 L373.58,416.30 L382.42,393.80 L391.26,371.40 L400.10,356.40 L408.94,344.70 L417.78,334.40 L426.62,326.50 L435.46,319.20 L444.30,312.30" fill="none" stroke="#3d5890" stroke-width="0.95"/>
<rect x="106.28" y="440.90" width="4.2" height="5.2" fill="#d8124a"/>
<rect x="115.12" y="429.40" width="4.2" height="5.2" fill="#d8124a"/>
<rect x="123.96" y="433.90" width="4.2" height="5.2" fill="#d8124a"/>
<rect x="132.80" y="419.10" width="4.2" height="5.2" fill="#d8124a"/>
<rect x="141.64" y="408.90" width="4.2" height="5.2" fill="#d8124a"/>
<rect x="150.48" y="412.00" width="4.2" height="5.2" fill="#d8124a"/>
<rect x="159.32" y="407.20" width="4.2" height="5.2" fill="#d8124a"/>
<rect x="168.16" y="404.40" width="4.2" height="5.2" fill="#d8124a"/>
<rect x="177.00" y="396.60" width="4.2" height="5.2" fill="#d8124a"/>
<rect x="185.84" y="430.70" width="4.2" height="5.2" fill="#d8124a"/>
<rect x="194.68" y="403.70" width="4.2" height="5.2" fill="#d8124a"/>
<rect x="203.52" y="412.40" width="4.2" height="5.2" fill="#d8124a"/>
<rect x="212.36" y="415.40" width="4.2" height="5.2" fill="#d8124a"/>
<rect x="221.20" y="433.00" width="4.2" height="5.2" fill="#d8124a"/>
<rect x="230.04" y="409.90" width="4.2" height="5.2" fill="#d8124a"/>
<rect x="238.88" y="430.10" width="4.2" height="5.2" fill="#d8124a"/>
<rect x="247.72" y="404.40" width="4.2" height="5.2" fill="#d8124a"/>
<rect x="256.56" y="402.80" width="4.2" height="5.2" fill="#d8124a"/>
<rect x="132.80" y="423.00" width="4.2" height="5.2" fill="#d8124a"/>
<rect x="141.64" y="415.90" width="4.2" height="5.2" fill="#d8124a"/>
<rect x="150.48" y="426.80" width="4.2" height="5.2" fill="#d8124a"/>
<rect x="159.32" y="419.10" width="4.2" height="5.2" fill="#d8124a"/>
<rect x="168.16" y="423.00" width="4.2" height="5.2" fill="#d8124a"/>
<rect x="177.00" y="408.00" width="4.2" height="5.2" fill="#d8124a"/>
<rect x="185.84" y="437.40" width="4.2" height="5.2" fill="#d8124a"/>
<rect x="194.68" y="421.60" width="4.2" height="5.2" fill="#d8124a"/>
<rect x="203.52" y="420.10" width="4.2" height="5.2" fill="#d8124a"/>
<rect x="212.36" y="412.40" width="4.2" height="5.2" fill="#d8124a"/>
<rect x="221.20" y="433.00" width="4.2" height="5.2" fill="#d8124a"/>
<rect x="132.80" y="430.10" width="4.2" height="5.2" fill="#d8124a"/>
<rect x="141.64" y="421.00" width="4.2" height="5.2" fill="#d8124a"/>
<rect x="150.48" y="433.00" width="4.2" height="5.2" fill="#d8124a"/>
<rect x="159.32" y="419.10" width="4.2" height="5.2" fill="#d8124a"/>
<rect x="168.16" y="431.20" width="4.2" height="5.2" fill="#d8124a"/>
<rect x="177.00" y="424.40" width="4.2" height="5.2" fill="#d8124a"/>
<rect x="185.84" y="448.40" width="4.2" height="5.2" fill="#d8124a"/>
<rect x="194.68" y="439.40" width="4.2" height="5.2" fill="#d8124a"/>
<rect x="203.52" y="430.40" width="4.2" height="5.2" fill="#d8124a"/>
<rect x="212.36" y="424.90" width="4.2" height="5.2" fill="#d8124a"/>
<rect x="132.80" y="440.90" width="4.2" height="5.2" fill="#d8124a"/>
<rect x="141.64" y="431.40" width="4.2" height="5.2" fill="#d8124a"/>
<rect x="150.48" y="450.90" width="4.2" height="5.2" fill="#d8124a"/>
<rect x="159.32" y="437.40" width="4.2" height="5.2" fill="#d8124a"/>
<rect x="168.16" y="449.40" width="4.2" height="5.2" fill="#d8124a"/>
<rect x="177.00" y="432.00" width="4.2" height="5.2" fill="#d8124a"/>
<rect x="185.84" y="448.40" width="4.2" height="5.2" fill="#d8124a"/>
<rect x="194.68" y="449.90" width="4.2" height="5.2" fill="#d8124a"/>
<rect x="203.52" y="438.40" width="4.2" height="5.2" fill="#d8124a"/>
<rect x="212.36" y="415.40" width="4.2" height="5.2" fill="#d8124a"/>
<rect x="132.80" y="434.40" width="4.2" height="5.2" fill="#d8124a"/>
<rect x="141.64" y="437.80" width="4.2" height="5.2" fill="#d8124a"/>
<rect x="150.48" y="433.40" width="4.2" height="5.2" fill="#d8124a"/>
<rect x="168.16" y="449.40" width="4.2" height="5.2" fill="#d8124a"/>
<rect x="177.00" y="447.60" width="4.2" height="5.2" fill="#d8124a"/>
<rect x="194.68" y="439.40" width="4.2" height="5.2" fill="#d8124a"/>
<rect x="203.52" y="432.40" width="4.2" height="5.2" fill="#d8124a"/>
<rect x="247.72" y="428.40" width="4.2" height="5.2" fill="#d8124a"/>
<rect x="256.56" y="426.80" width="4.2" height="5.2" fill="#d8124a"/>
<rect x="274.24" y="424.50" width="4.2" height="5.2" fill="#d8124a"/>
<rect x="283.08" y="424.50" width="4.2" height="5.2" fill="#d8124a"/>
<rect x="291.92" y="421.60" width="4.2" height="5.2" fill="#d8124a"/>
<rect x="300.76" y="412.00" width="4.2" height="5.2" fill="#d8124a"/>
<rect x="247.72" y="434.40" width="4.2" height="5.2" fill="#d8124a"/>
<rect x="256.56" y="426.80" width="4.2" height="5.2" fill="#d8124a"/>
<rect x="300.76" y="418.70" width="4.2" height="5.2" fill="#d8124a"/>
<rect x="300.76" y="432.80" width="4.2" height="5.2" fill="#d8124a"/>
<rect x="309.60" y="435.40" width="4.2" height="5.2" fill="#d8124a"/>
<rect x="318.44" y="440.80" width="4.2" height="5.2" fill="#d8124a"/>
<rect x="327.28" y="412.80" width="4.2" height="5.2" fill="#d8124a"/>
<rect x="309.60" y="425.40" width="4.2" height="5.2" fill="#d8124a"/>
<rect x="318.44" y="409.70" width="4.2" height="5.2" fill="#d8124a"/>
<rect x="300.76" y="402.40" width="4.2" height="5.2" fill="#d8124a"/>
<rect x="309.60" y="386.70" width="4.2" height="5.2" fill="#d8124a"/>
<rect x="318.44" y="370.50" width="4.2" height="5.2" fill="#d8124a"/>
<rect x="327.28" y="355.90" width="4.2" height="5.2" fill="#d8124a"/>
<rect x="336.12" y="340.40" width="4.2" height="5.2" fill="#d8124a"/>
<rect x="344.96" y="329.10" width="4.2" height="5.2" fill="#d8124a"/>
<rect x="353.80" y="317.90" width="4.2" height="5.2" fill="#d8124a"/>
<rect x="362.64" y="308.60" width="4.2" height="5.2" fill="#d8124a"/>
<rect x="371.48" y="301.10" width="4.2" height="5.2" fill="#d8124a"/>
<rect x="380.32" y="296.90" width="4.2" height="5.2" fill="#d8124a"/>
<rect x="389.16" y="293.70" width="4.2" height="5.2" fill="#d8124a"/>
<rect x="398.00" y="291.20" width="4.2" height="5.2" fill="#d8124a"/>
<rect x="406.84" y="289.30" width="4.2" height="5.2" fill="#d8124a"/>
<rect x="415.68" y="287.80" width="4.2" height="5.2" fill="#d8124a"/>
<rect x="424.52" y="286.80" width="4.2" height="5.2" fill="#d8124a"/>
<rect x="433.36" y="286.10" width="4.2" height="5.2" fill="#d8124a"/>
<rect x="442.20" y="285.60" width="4.2" height="5.2" fill="#d8124a"/>
<rect x="300.76" y="411.40" width="4.2" height="5.2" fill="#d8124a"/>
<rect x="309.60" y="397.40" width="4.2" height="5.2" fill="#d8124a"/>
<rect x="318.44" y="383.40" width="4.2" height="5.2" fill="#d8124a"/>
<rect x="327.28" y="378.90" width="4.2" height="5.2" fill="#d8124a"/>
<rect x="336.12" y="365.10" width="4.2" height="5.2" fill="#d8124a"/>
<rect x="344.96" y="350.90" width="4.2" height="5.2" fill="#d8124a"/>
<rect x="353.80" y="335.10" width="4.2" height="5.2" fill="#d8124a"/>
<rect x="362.64" y="323.90" width="4.2" height="5.2" fill="#d8124a"/>
<rect x="371.48" y="314.20" width="4.2" height="5.2" fill="#d8124a"/>
<rect x="380.32" y="304.47" width="4.2" height="5.2" fill="#d8124a"/>
<rect x="389.16" y="300.17" width="4.2" height="5.2" fill="#d8124a"/>
<rect x="398.00" y="296.88" width="4.2" height="5.2" fill="#d8124a"/>
<rect x="406.84" y="294.02" width="4.2" height="5.2" fill="#d8124a"/>
<rect x="415.68" y="291.80" width="4.2" height="5.2" fill="#d8124a"/>
<rect x="424.52" y="290.07" width="4.2" height="5.2" fill="#d8124a"/>
<rect x="433.36" y="288.82" width="4.2" height="5.2" fill="#d8124a"/>
<rect x="442.20" y="287.82" width="4.2" height="5.2" fill="#d8124a"/>
<rect x="300.76" y="418.40" width="4.2" height="5.2" fill="#d8124a"/>
<rect x="309.60" y="410.40" width="4.2" height="5.2" fill="#d8124a"/>
<rect x="318.44" y="397.30" width="4.2" height="5.2" fill="#d8124a"/>
<rect x="327.28" y="380.40" width="4.2" height="5.2" fill="#d8124a"/>
<rect x="336.12" y="371.20" width="4.2" height="5.2" fill="#d8124a"/>
<rect x="344.96" y="352.40" width="4.2" height="5.2" fill="#d8124a"/>
<rect x="353.80" y="338.20" width="4.2" height="5.2" fill="#d8124a"/>
<rect x="362.64" y="326.90" width="4.2" height="5.2" fill="#d8124a"/>
<rect x="371.48" y="316.70" width="4.2" height="5.2" fill="#d8124a"/>
<rect x="380.32" y="312.05" width="4.2" height="5.2" fill="#d8124a"/>
<rect x="389.16" y="306.65" width="4.2" height="5.2" fill="#d8124a"/>
<rect x="398.00" y="302.55" width="4.2" height="5.2" fill="#d8124a"/>
<rect x="406.84" y="298.75" width="4.2" height="5.2" fill="#d8124a"/>
<rect x="415.68" y="295.80" width="4.2" height="5.2" fill="#d8124a"/>
<rect x="424.52" y="293.35" width="4.2" height="5.2" fill="#d8124a"/>
<rect x="433.36" y="291.55" width="4.2" height="5.2" fill="#d8124a"/>
<rect x="442.20" y="290.05" width="4.2" height="5.2" fill="#d8124a"/>
<rect x="300.76" y="424.70" width="4.2" height="5.2" fill="#d8124a"/>
<rect x="309.60" y="414.70" width="4.2" height="5.2" fill="#d8124a"/>
<rect x="318.44" y="403.50" width="4.2" height="5.2" fill="#d8124a"/>
<rect x="327.28" y="393.50" width="4.2" height="5.2" fill="#d8124a"/>
<rect x="336.12" y="385.10" width="4.2" height="5.2" fill="#d8124a"/>
<rect x="344.96" y="365.20" width="4.2" height="5.2" fill="#d8124a"/>
<rect x="353.80" y="349.60" width="4.2" height="5.2" fill="#d8124a"/>
<rect x="362.64" y="338.40" width="4.2" height="5.2" fill="#d8124a"/>
<rect x="371.48" y="327.20" width="4.2" height="5.2" fill="#d8124a"/>
<rect x="380.32" y="319.62" width="4.2" height="5.2" fill="#d8124a"/>
<rect x="389.16" y="313.12" width="4.2" height="5.2" fill="#d8124a"/>
<rect x="398.00" y="308.22" width="4.2" height="5.2" fill="#d8124a"/>
<rect x="406.84" y="303.47" width="4.2" height="5.2" fill="#d8124a"/>
<rect x="415.68" y="299.80" width="4.2" height="5.2" fill="#d8124a"/>
<rect x="424.52" y="296.62" width="4.2" height="5.2" fill="#d8124a"/>
<rect x="433.36" y="294.27" width="4.2" height="5.2" fill="#d8124a"/>
<rect x="442.20" y="292.27" width="4.2" height="5.2" fill="#d8124a"/>
<rect x="300.76" y="432.80" width="4.2" height="5.2" fill="#d8124a"/>
<rect x="309.60" y="424.70" width="4.2" height="5.2" fill="#d8124a"/>
<rect x="318.44" y="409.70" width="4.2" height="5.2" fill="#d8124a"/>
<rect x="327.28" y="398.50" width="4.2" height="5.2" fill="#d8124a"/>
<rect x="336.12" y="389.70" width="4.2" height="5.2" fill="#d8124a"/>
<rect x="344.96" y="377.40" width="4.2" height="5.2" fill="#d8124a"/>
<rect x="353.80" y="362.10" width="4.2" height="5.2" fill="#d8124a"/>
<rect x="362.64" y="349.60" width="4.2" height="5.2" fill="#d8124a"/>
<rect x="371.48" y="339.10" width="4.2" height="5.2" fill="#d8124a"/>
<rect x="380.32" y="327.20" width="4.2" height="5.2" fill="#d8124a"/>
<rect x="389.16" y="319.60" width="4.2" height="5.2" fill="#d8124a"/>
<rect x="398.00" y="313.90" width="4.2" height="5.2" fill="#d8124a"/>
<rect x="406.84" y="308.20" width="4.2" height="5.2" fill="#d8124a"/>
<rect x="415.68" y="303.80" width="4.2" height="5.2" fill="#d8124a"/>
<rect x="424.52" y="299.90" width="4.2" height="5.2" fill="#d8124a"/>
<rect x="433.36" y="297.00" width="4.2" height="5.2" fill="#d8124a"/>
<rect x="442.20" y="294.50" width="4.2" height="5.2" fill="#d8124a"/>
<rect x="300.76" y="452.10" width="4.2" height="5.2" fill="#d8124a"/>
<rect x="309.60" y="433.40" width="4.2" height="5.2" fill="#d8124a"/>
<rect x="318.44" y="420.90" width="4.2" height="5.2" fill="#d8124a"/>
<rect x="327.28" y="404.70" width="4.2" height="5.2" fill="#d8124a"/>
<rect x="336.12" y="389.70" width="4.2" height="5.2" fill="#d8124a"/>
<rect x="115.02" y="433.10" width="4.4" height="4.8" fill="#183a7c"/>
<rect x="132.70" y="435.30" width="4.4" height="4.8" fill="#183a7c"/>
<rect x="141.54" y="411.60" width="4.4" height="4.8" fill="#183a7c"/>
<rect x="150.38" y="447.80" width="4.4" height="4.8" fill="#183a7c"/>
<rect x="159.22" y="426.60" width="4.4" height="4.8" fill="#183a7c"/>
<rect x="168.06" y="442.40" width="4.4" height="4.8" fill="#183a7c"/>
<rect x="185.74" y="422.90" width="4.4" height="4.8" fill="#183a7c"/>
<rect x="194.58" y="432.40" width="4.4" height="4.8" fill="#183a7c"/>
<rect x="203.42" y="451.10" width="4.4" height="4.8" fill="#183a7c"/>
<rect x="115.02" y="429.60" width="4.4" height="4.8" fill="#183a7c"/>
<rect x="132.70" y="435.30" width="4.4" height="4.8" fill="#183a7c"/>
<rect x="141.54" y="439.90" width="4.4" height="4.8" fill="#183a7c"/>
<rect x="159.22" y="439.10" width="4.4" height="4.8" fill="#183a7c"/>
<rect x="168.06" y="442.40" width="4.4" height="4.8" fill="#183a7c"/>
<rect x="185.74" y="439.60" width="4.4" height="4.8" fill="#183a7c"/>
<rect x="194.58" y="432.40" width="4.4" height="4.8" fill="#183a7c"/>
<rect x="256.46" y="416.10" width="4.4" height="4.8" fill="#183a7c"/>
<rect x="256.46" y="433.10" width="4.4" height="4.8" fill="#183a7c"/>
<rect x="256.46" y="449.60" width="4.4" height="4.8" fill="#183a7c"/>
<rect x="300.66" y="442.30" width="4.4" height="4.8" fill="#183a7c"/>
<rect x="309.50" y="426.10" width="4.4" height="4.8" fill="#183a7c"/>
<rect x="318.34" y="445.40" width="4.4" height="4.8" fill="#183a7c"/>
<rect x="336.02" y="426.20" width="4.4" height="4.8" fill="#183a7c"/>
<rect x="344.86" y="401.30" width="4.4" height="4.8" fill="#183a7c"/>
<rect x="353.70" y="390.60" width="4.4" height="4.8" fill="#183a7c"/>
<rect x="362.54" y="378.00" width="4.4" height="4.8" fill="#183a7c"/>
<rect x="371.38" y="367.20" width="4.4" height="4.8" fill="#183a7c"/>
<rect x="380.22" y="354.60" width="4.4" height="4.8" fill="#183a7c"/>
<rect x="389.06" y="343.10" width="4.4" height="4.8" fill="#183a7c"/>
<rect x="397.90" y="335.60" width="4.4" height="4.8" fill="#183a7c"/>
<rect x="406.74" y="327.70" width="4.4" height="4.8" fill="#183a7c"/>
<rect x="415.58" y="320.90" width="4.4" height="4.8" fill="#183a7c"/>
<rect x="424.42" y="315.00" width="4.4" height="4.8" fill="#183a7c"/>
<rect x="433.26" y="311.10" width="4.4" height="4.8" fill="#183a7c"/>
<rect x="442.10" y="305.60" width="4.4" height="4.8" fill="#183a7c"/>
<rect x="336.02" y="446.30" width="4.4" height="4.8" fill="#183a7c"/>
<rect x="344.86" y="415.70" width="4.4" height="4.8" fill="#183a7c"/>
<rect x="353.70" y="395.90" width="4.4" height="4.8" fill="#183a7c"/>
<rect x="362.54" y="386.10" width="4.4" height="4.8" fill="#183a7c"/>
<rect x="371.38" y="375.30" width="4.4" height="4.8" fill="#183a7c"/>
<rect x="380.22" y="361.80" width="4.4" height="4.8" fill="#183a7c"/>
<rect x="389.06" y="347.60" width="4.4" height="4.8" fill="#183a7c"/>
<rect x="397.90" y="339.30" width="4.4" height="4.8" fill="#183a7c"/>
<rect x="406.74" y="331.00" width="4.4" height="4.8" fill="#183a7c"/>
<rect x="415.58" y="324.60" width="4.4" height="4.8" fill="#183a7c"/>
<rect x="424.42" y="318.60" width="4.4" height="4.8" fill="#183a7c"/>
<rect x="433.26" y="313.60" width="4.4" height="4.8" fill="#183a7c"/>
<rect x="442.10" y="308.10" width="4.4" height="4.8" fill="#183a7c"/>
<rect x="344.86" y="436.40" width="4.4" height="4.8" fill="#183a7c"/>
<rect x="353.70" y="411.20" width="4.4" height="4.8" fill="#183a7c"/>
<rect x="362.54" y="424.60" width="4.4" height="4.8" fill="#183a7c"/>
<rect x="371.38" y="396.80" width="4.4" height="4.8" fill="#183a7c"/>
<rect x="380.22" y="376.20" width="4.4" height="4.8" fill="#183a7c"/>
<rect x="389.06" y="362.60" width="4.4" height="4.8" fill="#183a7c"/>
<rect x="397.90" y="351.80" width="4.4" height="4.8" fill="#183a7c"/>
<rect x="406.74" y="338.00" width="4.4" height="4.8" fill="#183a7c"/>
<rect x="415.58" y="328.10" width="4.4" height="4.8" fill="#183a7c"/>
<rect x="424.42" y="321.10" width="4.4" height="4.8" fill="#183a7c"/>
<rect x="433.26" y="315.10" width="4.4" height="4.8" fill="#183a7c"/>
<rect x="442.10" y="309.10" width="4.4" height="4.8" fill="#183a7c"/>
<rect x="353.70" y="411.20" width="4.4" height="4.8" fill="#183a7c"/>
<rect x="362.54" y="430.10" width="4.4" height="4.8" fill="#183a7c"/>
<rect x="371.38" y="413.90" width="4.4" height="4.8" fill="#183a7c"/>
<rect x="380.22" y="391.40" width="4.4" height="4.8" fill="#183a7c"/>
<rect x="389.06" y="369.00" width="4.4" height="4.8" fill="#183a7c"/>
<rect x="397.90" y="354.00" width="4.4" height="4.8" fill="#183a7c"/>
<rect x="406.74" y="342.30" width="4.4" height="4.8" fill="#183a7c"/>
<rect x="415.58" y="332.00" width="4.4" height="4.8" fill="#183a7c"/>
<rect x="424.42" y="324.10" width="4.4" height="4.8" fill="#183a7c"/>
<rect x="433.26" y="316.80" width="4.4" height="4.8" fill="#183a7c"/>
<rect x="442.10" y="309.90" width="4.4" height="4.8" fill="#183a7c"/>
</g>
<line x1="90.70" y1="384.20" x2="444.30" y2="384.20" stroke="#111" stroke-width="1.6" />
<rect x="91.30" y="380.60" width="2.50" height="7.20" fill="#111" />
<rect x="441.10" y="380.60" width="2.70" height="7.40" fill="#111" />
<ellipse cx="319.6" cy="381.8" rx="16.3" ry="5.3" fill="none" stroke="#111" stroke-width="1.7"/>
<text x="269.30" y="355.30" font-family='"Liberation Serif", serif' font-size="11.8" font-weight="bold" text-anchor="middle" fill="#111" >APL</text>
<text x="271.00" y="369.70" font-family='"Liberation Serif", serif' font-size="11.8" font-weight="bold" text-anchor="middle" fill="#111" >patients</text>
<text x="332.50" y="296.40" font-family='"Liberation Serif", serif' font-size="12.2" font-weight="bold" text-anchor="middle" fill="#111" >PR9 Zn-</text>
<text x="301.60" y="318.00" font-family='"Liberation Serif", serif' font-size="12.2" font-weight="bold" text-anchor="middle" fill="#111" >PR9 Zn+</text>
<text x="412.30" y="419.50" font-family='"Liberation Serif", serif' font-size="11.8" font-weight="bold" text-anchor="middle" fill="#111" >NB4</text>
<line x1="292.00" y1="361.50" x2="302.11" y2="371.28" stroke="#111" stroke-width="1.5" />
<polygon points="307.50,376.50 298.89,373.18 303.90,368.00" fill="#111"/>
<line x1="345.50" y1="296.80" x2="393.08" y2="344.11" stroke="#111" stroke-width="1.5" />
<polygon points="398.40,349.40 389.83,345.96 394.91,340.85" fill="#111"/>
<line x1="323.50" y1="318.80" x2="366.99" y2="363.81" stroke="#111" stroke-width="1.5" />
<polygon points="372.20,369.20 363.70,365.59 368.88,360.59" fill="#111"/>
<line x1="399.40" y1="408.70" x2="356.77" y2="376.34" stroke="#111" stroke-width="1.5" />
<polygon points="350.80,371.80 359.75,374.07 355.39,379.81" fill="#111"/>
<text x="1.50" y="531.20" font-family='"Liberation Sans", sans-serif' font-size="25" font-weight="bold" text-anchor="start" fill="#000" >C</text>
<text x="44.90" y="535.80" font-family='"Liberation Serif", serif' font-size="11.9" font-weight="normal" text-anchor="middle" fill="#111"  stroke="#111" stroke-width="0.2">NB4</text>
<text x="115.50" y="528.70" font-family='"Liberation Serif", serif' font-size="12.5" font-weight="normal" text-anchor="middle" fill="#111"  stroke="#111" stroke-width="0.2">PR9</text>
<line x1="78.00" y1="533.60" x2="152.80" y2="533.60" stroke="#222" stroke-width="1" />
<text x="81.00" y="548.30" font-family='"Liberation Serif", serif' font-size="12.5" font-weight="normal" text-anchor="middle" fill="#111"  stroke="#111" stroke-width="0.2">-</text>
<text x="116.00" y="547.80" font-family='"Liberation Serif", serif' font-size="12.5" font-weight="normal" text-anchor="middle" fill="#111"  stroke="#111" stroke-width="0.2">100</text>
<text x="157.00" y="547.80" font-family='"Liberation Serif", serif' font-size="12.5" font-weight="normal" text-anchor="middle" fill="#111" textLength="16.5" lengthAdjust="spacingAndGlyphs" stroke="#111" stroke-width="0.2">200</text>
<text x="190.60" y="548.80" font-family='"Liberation Serif", serif' font-size="12.5" font-weight="normal" text-anchor="start" fill="#111" textLength="63.5" lengthAdjust="spacingAndGlyphs" stroke="#111" stroke-width="0.2">ZnSO4 (μM)</text>
<defs><filter id="bl5" x="-30%" y="-80%" width="160%" height="260%"><feGaussianBlur stdDeviation="0.5"/></filter><filter id="bl6" x="-30%" y="-80%" width="160%" height="260%"><feGaussianBlur stdDeviation="0.6"/></filter><filter id="bl7" x="-30%" y="-80%" width="160%" height="260%"><feGaussianBlur stdDeviation="0.7"/></filter><filter id="bl8" x="-30%" y="-80%" width="160%" height="260%"><feGaussianBlur stdDeviation="0.8"/></filter><filter id="bl9" x="-30%" y="-80%" width="160%" height="260%"><feGaussianBlur stdDeviation="0.9"/></filter><filter id="bl10" x="-30%" y="-80%" width="160%" height="260%"><feGaussianBlur stdDeviation="1.0"/></filter><filter id="bl12" x="-30%" y="-80%" width="160%" height="260%"><feGaussianBlur stdDeviation="1.2"/></filter><filter id="bl15" x="-30%" y="-80%" width="160%" height="260%"><feGaussianBlur stdDeviation="1.5"/></filter><filter id="bl20" x="-30%" y="-80%" width="160%" height="260%"><feGaussianBlur stdDeviation="2.0"/></filter><filter id="bl25" x="-30%" y="-80%" width="160%" height="260%"><feGaussianBlur stdDeviation="2.5"/></filter><filter id="bl30" x="-30%" y="-80%" width="160%" height="260%"><feGaussianBlur stdDeviation="3.0"/></filter><filter id="bl40" x="-30%" y="-80%" width="160%" height="260%"><feGaussianBlur stdDeviation="4.0"/></filter></defs>
<rect x="32.30" y="555.60" width="127.70" height="91.60" fill="#dadada" />
<rect x="34.60" y="558.00" width="23.20" height="86.00" rx="2" fill="#cacaca" opacity="1.0" filter="url(#bl20)"/>
<rect x="65.70" y="558.00" width="25.60" height="86.00" rx="2" fill="#d8d8d8" opacity="1.0" filter="url(#bl20)"/>
<rect x="100.50" y="558.00" width="24.50" height="86.00" rx="2" fill="#d1d1d1" opacity="1.0" filter="url(#bl20)"/>
<rect x="131.50" y="558.00" width="23.10" height="86.00" rx="2" fill="#d4d4d4" opacity="1.0" filter="url(#bl20)"/>
<rect x="35.00" y="577.50" width="22.50" height="25.00" rx="2.5" fill="#b9b9b9" opacity="1.0" filter="url(#bl25)"/>
<rect x="35.00" y="598.00" width="22.50" height="16.00" rx="2.5" fill="#a6a6a6" opacity="1.0" filter="url(#bl25)"/>
<rect x="35.00" y="622.00" width="22.50" height="10.00" rx="2.5" fill="#b2b2b2" opacity="1.0" filter="url(#bl20)"/>
<rect x="100.50" y="558.50" width="24.50" height="5.00" rx="2.5" fill="#c2c2c2" opacity="1.0" filter="url(#bl15)"/>
<rect x="100.50" y="600.00" width="24.50" height="14.00" rx="2.5" fill="#c8c8c8" opacity="1.0" filter="url(#bl20)"/>
<rect x="100.50" y="624.00" width="24.50" height="8.00" rx="2.5" fill="#bdbdbd" opacity="1.0" filter="url(#bl20)"/>
<rect x="131.50" y="595.00" width="23.10" height="18.00" rx="2.5" fill="#cbcbcb" opacity="1.0" filter="url(#bl20)"/>
<rect x="35.50" y="568.25" width="21.80" height="8.50" rx="2.5" fill="#767676" opacity="1.0" filter="url(#bl12)"/>
<rect x="35.50" y="613.80" width="21.80" height="9.00" rx="2.5" fill="#5e5e5e" opacity="1.0" filter="url(#bl12)"/>
<rect x="66.30" y="619.40" width="24.50" height="5.20" rx="2.5" fill="#3e3e3e" opacity="1.0" filter="url(#bl8)"/>
<rect x="101.00" y="571.70" width="23.60" height="6.20" rx="2.5" fill="#636363" opacity="1.0" filter="url(#bl8)"/>
<rect x="101.00" y="619.30" width="23.60" height="5.00" rx="2.5" fill="#6c6c6c" opacity="1.0" filter="url(#bl8)"/>
<rect x="101.00" y="613.50" width="23.60" height="3.00" rx="2.5" fill="#a8a8a8" opacity="1.0" filter="url(#bl10)"/>
<rect x="132.00" y="570.00" width="22.40" height="8.60" rx="2.5" fill="#232323" opacity="1.0" filter="url(#bl8)"/>
<rect x="132.00" y="619.80" width="22.40" height="4.80" rx="2.5" fill="#7a7a7a" opacity="1.0" filter="url(#bl9)"/>
<rect x="101.00" y="626.00" width="23.60" height="10.00" rx="2.5" fill="#c6c6c6" opacity="1.0" filter="url(#bl20)"/>
<rect x="132.00" y="626.00" width="22.40" height="10.00" rx="2.5" fill="#c9c9c9" opacity="1.0" filter="url(#bl20)"/>
<rect x="32.00" y="665.30" width="127.80" height="43.60" fill="#d9d9d9" />
<rect x="35.30" y="676.60" width="28.50" height="9.00" rx="3.5" fill="#353535" opacity="1.0" filter="url(#bl6)"/>
<rect x="37.80" y="678.40" width="23.50" height="4.80" rx="1.5" fill="#585858" opacity="1.0" filter="url(#bl10)"/>
<rect x="69.00" y="677.10" width="25.50" height="6.10" rx="3.5" fill="#353535" opacity="1.0" filter="url(#bl6)"/>
<rect x="71.50" y="678.90" width="20.50" height="1.90" rx="1.5" fill="#585858" opacity="1.0" filter="url(#bl10)"/>
<rect x="100.40" y="678.00" width="25.60" height="7.20" rx="3.5" fill="#353535" opacity="1.0" filter="url(#bl6)"/>
<rect x="102.90" y="679.80" width="20.60" height="3.00" rx="1.5" fill="#585858" opacity="1.0" filter="url(#bl10)"/>
<rect x="130.50" y="678.60" width="26.50" height="6.60" rx="3.5" fill="#353535" opacity="1.0" filter="url(#bl6)"/>
<rect x="133.00" y="680.40" width="21.50" height="2.40" rx="1.5" fill="#585858" opacity="1.0" filter="url(#bl10)"/>
<rect x="69.50" y="684.40" width="24.50" height="2.40" rx="1" fill="#444" opacity="1.0" filter="url(#bl6)"/>
<rect x="37.00" y="686.50" width="26.00" height="1.60" rx="1" fill="#a5a5a5" opacity="1.0" filter="url(#bl8)"/>
<rect x="101.00" y="685.90" width="24.50" height="1.80" rx="1" fill="#a0a0a0" opacity="1.0" filter="url(#bl8)"/>
<rect x="131.00" y="685.60" width="25.50" height="1.80" rx="1" fill="#a8a8a8" opacity="1.0" filter="url(#bl8)"/>
<rect x="36.00" y="700.25" width="28.00" height="2.50" rx="1" fill="#c8c8c8" opacity="1.0" filter="url(#bl12)"/>
<rect x="101.00" y="700.25" width="24.00" height="2.50" rx="1" fill="#c8c8c8" opacity="1.0" filter="url(#bl12)"/>
<text x="19.60" y="572.80" font-family='"Liberation Serif", serif' font-size="11.6" font-weight="normal" text-anchor="end" fill="#111"  stroke="#111" stroke-width="0.2">118</text>
<line x1="24.60" y1="567.40" x2="28.80" y2="567.40" stroke="#222" stroke-width="1.1" />
<text x="21.20" y="633.20" font-family='"Liberation Serif", serif' font-size="11.2" font-weight="normal" text-anchor="end" fill="#111"  stroke="#111" stroke-width="0.2">54</text>
<line x1="24.50" y1="627.80" x2="28.80" y2="627.80" stroke="#222" stroke-width="1.1" />
<text x="21.10" y="689.60" font-family='"Liberation Serif", serif' font-size="11.4" font-weight="normal" text-anchor="end" fill="#111"  stroke="#111" stroke-width="0.2">54</text>
<line x1="24.20" y1="684.20" x2="28.80" y2="684.20" stroke="#222" stroke-width="1.1" />
<line x1="165.30" y1="571.90" x2="169.20" y2="571.90" stroke="#222" stroke-width="1" />
<text x="173.00" y="578.20" font-family='"Liberation Serif", serif' font-size="12.5" font-weight="normal" text-anchor="start" fill="#111" textLength="53.3" lengthAdjust="spacingAndGlyphs" stroke="#111" stroke-width="0.2">PML/RARα</text>
<line x1="165.30" y1="624.80" x2="169.20" y2="624.80" stroke="#222" stroke-width="1" />
<text x="177.00" y="631.00" font-family='"Liberation Serif", serif' font-size="12.5" font-weight="normal" text-anchor="start" fill="#111" textLength="27.7" lengthAdjust="spacingAndGlyphs" stroke="#111" stroke-width="0.2">RARα</text>
<line x1="168.00" y1="680.50" x2="171.50" y2="680.50" stroke="#222" stroke-width="1" />
<text x="180.70" y="684.00" font-family='"Liberation Serif", serif' font-size="12.5" font-weight="normal" text-anchor="start" fill="#111" textLength="40" lengthAdjust="spacingAndGlyphs" stroke="#111" stroke-width="0.2">αTubulin</text>
<text x="262.60" y="533.40" font-family='"Liberation Sans", sans-serif' font-size="24" font-weight="bold" text-anchor="start" fill="#000" >D</text>
<line x1="299.70" y1="529.20" x2="299.70" y2="685.80" stroke="#333" stroke-width="1.2" />
<line x1="297.20" y1="685.80" x2="477.50" y2="685.80" stroke="#333" stroke-width="1.2" />
<line x1="297.20" y1="685.80" x2="299.70" y2="685.80" stroke="#333" stroke-width="1" />
<text x="295.30" y="689.60" font-family='"Liberation Serif", serif' font-size="8.4" font-weight="normal" text-anchor="end" fill="#111" textLength="4.2" lengthAdjust="spacingAndGlyphs" stroke="#111" stroke-width="0.15">0</text>
<line x1="297.20" y1="659.70" x2="299.70" y2="659.70" stroke="#333" stroke-width="1" />
<text x="295.30" y="663.50" font-family='"Liberation Serif", serif' font-size="8.4" font-weight="normal" text-anchor="end" fill="#111" textLength="4.2" lengthAdjust="spacingAndGlyphs" stroke="#111" stroke-width="0.15">5</text>
<line x1="297.20" y1="633.60" x2="299.70" y2="633.60" stroke="#333" stroke-width="1" />
<text x="295.30" y="637.40" font-family='"Liberation Serif", serif' font-size="8.4" font-weight="normal" text-anchor="end" fill="#111" textLength="8.8" lengthAdjust="spacingAndGlyphs" stroke="#111" stroke-width="0.15">10</text>
<line x1="297.20" y1="607.50" x2="299.70" y2="607.50" stroke="#333" stroke-width="1" />
<text x="295.30" y="611.30" font-family='"Liberation Serif", serif' font-size="8.4" font-weight="normal" text-anchor="end" fill="#111" textLength="8.8" lengthAdjust="spacingAndGlyphs" stroke="#111" stroke-width="0.15">15</text>
<line x1="297.20" y1="581.40" x2="299.70" y2="581.40" stroke="#333" stroke-width="1" />
<text x="295.30" y="585.20" font-family='"Liberation Serif", serif' font-size="8.4" font-weight="normal" text-anchor="end" fill="#111" textLength="8.8" lengthAdjust="spacingAndGlyphs" stroke="#111" stroke-width="0.15">20</text>
<line x1="297.20" y1="555.30" x2="299.70" y2="555.30" stroke="#333" stroke-width="1" />
<text x="295.30" y="559.10" font-family='"Liberation Serif", serif' font-size="8.4" font-weight="normal" text-anchor="end" fill="#111" textLength="8.8" lengthAdjust="spacingAndGlyphs" stroke="#111" stroke-width="0.15">25</text>
<line x1="297.20" y1="529.20" x2="299.70" y2="529.20" stroke="#333" stroke-width="1" />
<text x="295.30" y="533.00" font-family='"Liberation Serif", serif' font-size="8.4" font-weight="normal" text-anchor="end" fill="#111" textLength="8.8" lengthAdjust="spacingAndGlyphs" stroke="#111" stroke-width="0.15">30</text>
<text x="318.00" y="698.20" font-family='"Liberation Serif", serif' font-size="8" font-weight="normal" text-anchor="middle" fill="#111"  stroke="#111" stroke-width="0.2">0</text>
<text x="353.35" y="698.20" font-family='"Liberation Serif", serif' font-size="8" font-weight="normal" text-anchor="middle" fill="#111"  stroke="#111" stroke-width="0.2">1</text>
<text x="388.70" y="698.20" font-family='"Liberation Serif", serif' font-size="8" font-weight="normal" text-anchor="middle" fill="#111"  stroke="#111" stroke-width="0.2">2</text>
<text x="424.05" y="698.20" font-family='"Liberation Serif", serif' font-size="8" font-weight="normal" text-anchor="middle" fill="#111"  stroke="#111" stroke-width="0.2">3</text>
<text x="459.40" y="698.20" font-family='"Liberation Serif", serif' font-size="8" font-weight="normal" text-anchor="middle" fill="#111"  stroke="#111" stroke-width="0.2">4</text>
<text x="391.00" y="713.40" font-family='"Liberation Serif", serif' font-size="13.5" font-weight="normal" text-anchor="middle" fill="#111"  stroke="#111" stroke-width="0.2">Days</text>
<g transform="translate(275.9,671.6) rotate(-90)" font-family='"Liberation Serif", serif' fill="#111" stroke="#111" stroke-width="0.3"><text x="0" y="0" font-size="16.5" textLength="71.6" lengthAdjust="spacingAndGlyphs">Viable cells</text><text x="78.2" y="0" font-size="16">(</text><text x="83.9" y="0.6" font-family='"Liberation Sans", sans-serif' font-size="20" stroke-width="0">×</text><text x="98.9" y="0" font-size="15">10</text><text x="113" y="-4.3" font-size="10.5">5</text><text x="118" y="0" font-size="16">)</text></g>
<polyline points="318.00,677.76 353.35,670.14 388.70,639.03 424.05,600.71 459.40,557.39" fill="none" stroke="#1a1a1a" stroke-width="1.1"/>
<polyline points="318.00,677.76 353.35,669.10 388.70,647.17 424.05,615.02 459.40,577.22" fill="none" stroke="#1a1a1a" stroke-width="1.1"/>
<polyline points="318.00,677.76 353.35,666.22 388.70,648.48 424.05,632.03 459.40,623.68" fill="none" stroke="#1a1a1a" stroke-width="1.1"/>
<polyline points="318.00,677.76 353.35,674.32 388.70,671.71 424.05,672.75 459.40,674.84" fill="none" stroke="#1a1a1a" stroke-width="1.1"/>
<rect x="315.70" y="675.46" width="4.60" height="4.60" fill="#fff" stroke="#111" stroke-width="1"/>
<rect x="351.05" y="667.84" width="4.60" height="4.60" fill="#fff" stroke="#111" stroke-width="1"/>
<line x1="388.70" y1="633.81" x2="388.70" y2="644.25" stroke="#222" stroke-width="0.9" />
<line x1="386.50" y1="633.81" x2="390.90" y2="633.81" stroke="#222" stroke-width="0.9" />
<line x1="386.50" y1="644.25" x2="390.90" y2="644.25" stroke="#222" stroke-width="0.9" />
<rect x="386.40" y="636.73" width="4.60" height="4.60" fill="#fff" stroke="#111" stroke-width="1"/>
<line x1="424.05" y1="592.88" x2="424.05" y2="608.54" stroke="#222" stroke-width="0.9" />
<line x1="421.85" y1="592.88" x2="426.25" y2="592.88" stroke="#222" stroke-width="0.9" />
<line x1="421.85" y1="608.54" x2="426.25" y2="608.54" stroke="#222" stroke-width="0.9" />
<rect x="421.75" y="598.41" width="4.60" height="4.60" fill="#fff" stroke="#111" stroke-width="1"/>
<line x1="459.40" y1="555.82" x2="459.40" y2="558.95" stroke="#222" stroke-width="0.9" />
<line x1="457.20" y1="555.82" x2="461.60" y2="555.82" stroke="#222" stroke-width="0.9" />
<line x1="457.20" y1="558.95" x2="461.60" y2="558.95" stroke="#222" stroke-width="0.9" />
<rect x="457.10" y="555.09" width="4.60" height="4.60" fill="#fff" stroke="#111" stroke-width="1"/>
<circle cx="318.00" cy="677.76" r="2.5" fill="#fff" stroke="#111" stroke-width="1"/>
<circle cx="353.35" cy="669.10" r="2.5" fill="#fff" stroke="#111" stroke-width="1"/>
<circle cx="388.70" cy="647.17" r="2.5" fill="#fff" stroke="#111" stroke-width="1"/>
<line x1="424.05" y1="609.01" x2="424.05" y2="621.02" stroke="#222" stroke-width="0.9" />
<line x1="421.85" y1="609.01" x2="426.25" y2="609.01" stroke="#222" stroke-width="0.9" />
<line x1="421.85" y1="621.02" x2="426.25" y2="621.02" stroke="#222" stroke-width="0.9" />
<circle cx="424.05" cy="615.02" r="2.5" fill="#fff" stroke="#111" stroke-width="1"/>
<line x1="459.40" y1="570.70" x2="459.40" y2="583.75" stroke="#222" stroke-width="0.9" />
<line x1="457.20" y1="570.70" x2="461.60" y2="570.70" stroke="#222" stroke-width="0.9" />
<line x1="457.20" y1="583.75" x2="461.60" y2="583.75" stroke="#222" stroke-width="0.9" />
<circle cx="459.40" cy="577.22" r="2.5" fill="#fff" stroke="#111" stroke-width="1"/>
<rect x="315.50" y="675.26" width="5.00" height="5.00" fill="#111" />
<rect x="350.85" y="663.72" width="5.00" height="5.00" fill="#111" />
<line x1="388.70" y1="646.91" x2="388.70" y2="650.04" stroke="#222" stroke-width="0.9" />
<line x1="386.50" y1="646.91" x2="390.90" y2="646.91" stroke="#222" stroke-width="0.9" />
<line x1="386.50" y1="650.04" x2="390.90" y2="650.04" stroke="#222" stroke-width="0.9" />
<rect x="386.20" y="645.98" width="5.00" height="5.00" fill="#111" />
<line x1="424.05" y1="629.95" x2="424.05" y2="634.12" stroke="#222" stroke-width="0.9" />
<line x1="421.85" y1="629.95" x2="426.25" y2="629.95" stroke="#222" stroke-width="0.9" />
<line x1="421.85" y1="634.12" x2="426.25" y2="634.12" stroke="#222" stroke-width="0.9" />
<rect x="421.55" y="629.53" width="5.00" height="5.00" fill="#111" />
<line x1="459.40" y1="614.29" x2="459.40" y2="633.08" stroke="#222" stroke-width="0.9" />
<line x1="457.20" y1="614.29" x2="461.60" y2="614.29" stroke="#222" stroke-width="0.9" />
<line x1="457.20" y1="633.08" x2="461.60" y2="633.08" stroke="#222" stroke-width="0.9" />
<rect x="456.90" y="621.18" width="5.00" height="5.00" fill="#111" />
<circle cx="318.00" cy="677.76" r="2.6" fill="#111"/>
<circle cx="353.35" cy="674.32" r="2.6" fill="#111"/>
<line x1="388.70" y1="663.88" x2="388.70" y2="679.54" stroke="#222" stroke-width="0.9" />
<line x1="386.50" y1="663.88" x2="390.90" y2="663.88" stroke="#222" stroke-width="0.9" />
<line x1="386.50" y1="679.54" x2="390.90" y2="679.54" stroke="#222" stroke-width="0.9" />
<circle cx="388.70" cy="671.71" r="2.6" fill="#111"/>
<line x1="424.05" y1="668.21" x2="424.05" y2="677.29" stroke="#222" stroke-width="0.9" />
<line x1="421.85" y1="668.21" x2="426.25" y2="668.21" stroke="#222" stroke-width="0.9" />
<line x1="421.85" y1="677.29" x2="426.25" y2="677.29" stroke="#222" stroke-width="0.9" />
<circle cx="424.05" cy="672.75" r="2.6" fill="#111"/>
<line x1="459.40" y1="670.45" x2="459.40" y2="679.22" stroke="#222" stroke-width="0.9" />
<line x1="457.20" y1="670.45" x2="461.60" y2="670.45" stroke="#222" stroke-width="0.9" />
<line x1="457.20" y1="679.22" x2="461.60" y2="679.22" stroke="#222" stroke-width="0.9" />
<circle cx="459.40" cy="674.84" r="2.6" fill="#111"/>
<text x="465.90" y="560.30" font-family='"Liberation Serif", serif' font-size="9.4" font-weight="normal" text-anchor="start" fill="#111" textLength="39.3" lengthAdjust="spacingAndGlyphs" stroke="#111" stroke-width="0.2">Zn(-) Cont.</text>
<text x="465.90" y="582.80" font-family='"Liberation Serif", serif' font-size="9.4" font-weight="normal" text-anchor="start" fill="#111" textLength="41.3" lengthAdjust="spacingAndGlyphs" stroke="#111" stroke-width="0.2">Zn(+) Cont.</text>
<text x="466.30" y="628.50" font-family='"Liberation Serif", serif' font-size="9.4" font-weight="normal" text-anchor="start" fill="#111" textLength="47.9" lengthAdjust="spacingAndGlyphs" stroke="#111" stroke-width="0.2">Zn(-) +ATRA</text>
<text x="466.30" y="680.30" font-family='"Liberation Serif", serif' font-size="9.4" font-weight="normal" text-anchor="start" fill="#111" textLength="50.1" lengthAdjust="spacingAndGlyphs" stroke="#111" stroke-width="0.2">Zn(+) +ATRA</text>
</svg></body></html>
